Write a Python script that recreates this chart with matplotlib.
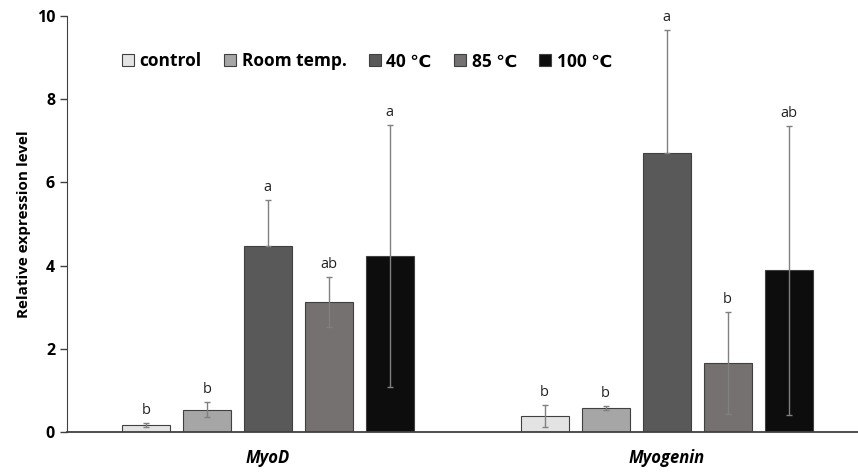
import matplotlib.pyplot as plt
import numpy as np

plt.rcParams['font.family'] = ['Open Sans', 'DejaVu Sans']

genes = ["MyoD", "Myogenin"]
treatments = ["control", "Room temp.", "40 ℃", "85 ℃", "100 ℃"]
means = {
    "control":    [0.17, 0.38],
    "Room temp.": [0.53, 0.58],
    "40 ℃":       [4.47, 6.71],
    "85 ℃":       [3.12, 1.66],
    "100 ℃":      [4.23, 3.89],
}
errors = {
    "control":    [0.05, 0.26],
    "Room temp.": [0.18, 0.04],
    "40 ℃":       [1.10, 2.95],
    "85 ℃":       [0.60, 1.22],
    "100 ℃":      [3.15, 3.47],
}
letters = {
    "control":    ["b", "b"],
    "Room temp.": ["b", "b"],
    "40 ℃":       ["a", "a"],
    "85 ℃":       ["ab", "b"],
    "100 ℃":      ["a", "ab"],
}
colors = ["#e3e3e3", "#a6a6a6", "#595959", "#767171", "#0d0d0d"]

fig = plt.figure(figsize=(8.58, 4.73), dpi=100)
ax = fig.add_axes([0.078, 0.0867, 0.922, 0.8795])

x = np.arange(len(genes))
width = 0.12
step = 0.153
for i, t in enumerate(treatments):
    pos = x + (i - 2) * step
    ax.bar(pos, means[t], width, color=colors[i], edgecolor="#404040",
           linewidth=0.8, label=t, zorder=2)
    err = np.array(errors[t])
    # lower whisker of the 40 ℃ bars is hidden in the reference
    lower = np.zeros_like(err) if t == "40 ℃" else err
    ax.errorbar(pos, means[t], yerr=[lower, err], fmt="none", ecolor="#808080",
                elinewidth=1, capsize=2, capthick=1, zorder=3)
    for p, m, e, l in zip(pos, means[t], errors[t], letters[t]):
        ax.text(p, m + e + 0.12, l, ha="center", va="bottom", fontsize=10.5,
                color="#222222")

ax.set_xlim(-0.504, 1.48)
ax.set_ylim(0, 10)
ax.set_yticks([0, 2, 4, 6, 8, 10])
ax.set_xticks(x)
ax.set_xticklabels(genes, fontsize=12, fontweight="bold", style="italic")
ax.tick_params(axis="x", length=0, pad=12)
ax.tick_params(axis="y", labelsize=11.5, length=5, width=1, color="#404040")
for lab in ax.get_yticklabels():
    lab.set_fontweight("bold")
ax.set_ylabel("Relative expression level", fontsize=11, fontweight="bold")
for s in ["top", "right"]:
    ax.spines[s].set_visible(False)
ax.spines["left"].set_color("#404040")
ax.spines["bottom"].set_color("#404040")
ax.spines["bottom"].set_linewidth(1.3)

leg = ax.legend(loc="upper left", bbox_to_anchor=(0.05, 0.95), ncol=5,
                frameon=False, prop={"weight": "bold", "size": 12.5},
                handlelength=0.7, handleheight=0.7, handletextpad=0.3,
                columnspacing=1.3)

fig.savefig("out.png", dpi=100)
